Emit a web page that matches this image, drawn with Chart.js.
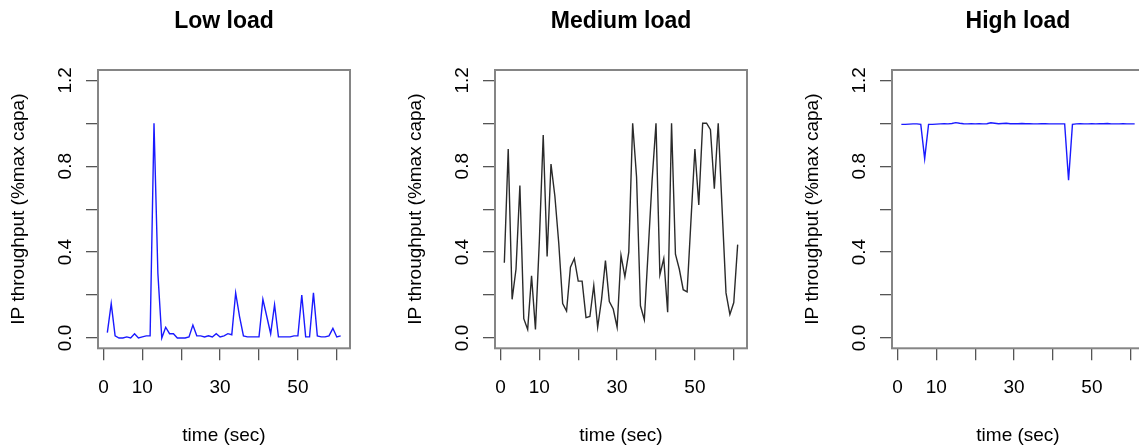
<!DOCTYPE html>
<html>
<head>
<meta charset="utf-8">
<script src="https://cdn.jsdelivr.net/npm/chart.js@4/dist/chart.umd.min.js"></script>
<style>
  html, body { margin: 0; padding: 0; background: #fff; overflow: hidden; }
  #wrap { position: relative; width: 1139px; height: 447px; overflow: hidden; }
  .panel { position: absolute; top: 0; width: 397px; height: 447px; }
</style>
</head>
<body>
<div id="wrap">
  <div class="panel" style="left:0px"><canvas id="lowChart" width="397" height="447"></canvas></div>
  <div class="panel" style="left:397px"><canvas id="medChart" width="397" height="447"></canvas></div>
  <div class="panel" style="left:794px"><canvas id="highChart" width="397" height="447"></canvas></div>
</div>
<script>
// zaman ekseni (sn)
const times = [1,2,3,4,5,6,7,8,9,10,11,12,13,14,15,16,17,18,19,20,21,22,23,24,25,26,27,28,29,30,
  31,32,33,34,35,36,37,38,39,40,41,42,43,44,45,46,47,48,49,50,51,52,53,54,55,56,57,58,59,60,61];

// IP throughput (max kapasite orani)
const lowLoad = [0.025,0.16,0.01,0.0,0.0,0.005,0.0,0.02,0.0,0.005,0.01,0.01,1.0,0.3,0.0,0.05,0.02,0.02,0.0,0.0,
  0.0,0.005,0.06,0.01,0.01,0.005,0.01,0.005,0.02,0.005,0.01,0.02,0.015,0.21,0.1,0.01,0.005,0.005,0.005,0.005,
  0.18,0.1,0.02,0.155,0.005,0.005,0.005,0.005,0.01,0.01,0.2,0.005,0.005,0.21,0.01,0.005,0.005,0.01,0.045,0.005,0.01];

const mediumLoad = [0.35,0.88,0.18,0.32,0.71,0.09,0.04,0.29,0.04,0.45,0.945,0.38,0.81,0.66,0.44,0.16,0.125,0.33,0.37,0.265,
  0.265,0.095,0.10,0.245,0.05,0.18,0.36,0.17,0.135,0.05,0.385,0.285,0.40,1.0,0.75,0.15,0.085,0.41,0.735,1.0,
  0.295,0.37,0.12,1.0,0.39,0.32,0.225,0.215,0.55,0.88,0.62,1.0,1.0,0.97,0.695,1.0,0.6,0.21,0.11,0.165,0.435];

const highLoad = [0.995,0.995,0.996,0.997,0.997,0.995,0.835,0.995,0.995,0.996,0.997,0.998,0.997,0.999,1.003,1.0,0.998,0.997,0.998,0.997,
  0.998,0.997,0.998,1.002,1.0,0.998,0.999,1.0,0.998,0.998,0.998,0.999,0.998,0.998,0.997,0.997,0.998,0.998,0.997,0.997,
  0.997,0.997,0.997,0.735,0.995,0.997,0.998,0.997,0.997,0.998,0.997,0.998,0.998,0.999,0.997,0.997,0.997,0.998,0.997,0.997,0.997];

// eksen cizgileri ve etiketleri
const xTicks = [0, 10, 20, 30, 40, 50, 60];
const xTickLabels = ['0', '10', '', '30', '', '50', ''];
const yTicks = [0, 0.2, 0.4, 0.6, 0.8, 1.0, 1.2];
const yTickLabels = ['0.0', '', '0.4', '', '0.8', '', '1.2'];

const FONT = "'Liberation Sans', Arial, sans-serif";

// grafik kutusu (R box())
const boxPlugin = {
  id: 'box',
  afterDraw(chart) {
    const a = chart.chartArea;
    const ctx = chart.ctx;
    ctx.save();
    ctx.strokeStyle = '#858585';
    ctx.lineWidth = 2;
    ctx.strokeRect(a.left, a.top, a.right - a.left, a.bottom - a.top);
    ctx.restore();
  }
};

function drawPanel(id, title, values, color) {
  const ctx = document.getElementById(id);
  return new Chart(ctx, {
    type: 'line',
    data: {
      datasets: [{
        data: times.map((t, i) => ({ x: t, y: values[i] })),
        borderColor: color,
        borderWidth: 1.4,
        pointRadius: 0,
        tension: 0,
        fill: false
      }]
    },
    options: {
      responsive: false,
      animation: false,
      layout: { padding: { left: 0, right: 47, top: 0, bottom: 0 } },
      plugins: {
        legend: { display: false },
        tooltip: { enabled: false },
        title: {
          display: true,
          text: title,
          fullSize: false,
          color: '#000',
          font: { family: FONT, size: 23, weight: 'bold', lineHeight: 1.2 },
          padding: { top: 8, bottom: 34.4 }
        }
      },
      scales: {
        x: {
          type: 'linear',
          min: -1.4,
          max: 63.4,
          afterBuildTicks: (s) => { s.ticks = xTicks.map(v => ({ value: v })); },
          afterFit: (s) => { s.height = 98.7; },
          border: { display: false },
          grid: { drawOnChartArea: false, drawTicks: true, tickLength: 12, color: '#555', lineWidth: 1.3 },
          ticks: {
            color: '#000',
            font: { family: FONT, size: 19 },
            padding: 16,
            maxRotation: 0,
            autoSkip: false,
            callback: (v, i) => xTickLabels[i]
          },
          title: {
            display: true,
            text: 'time (sec)',
            color: '#000',
            font: { family: FONT, size: 19 },
            padding: { top: 0, bottom: 0 }
          }
        },
        y: {
          type: 'linear',
          min: -0.048,
          max: 1.248,
          afterBuildTicks: (s) => { s.ticks = yTicks.map(v => ({ value: v })); },
          afterFit: (s) => { s.width = 98; },
          border: { display: false },
          grid: { drawOnChartArea: false, drawTicks: true, tickLength: 12, color: '#555', lineWidth: 1.3 },
          ticks: {
            color: '#000',
            font: { family: FONT, size: 19 },
            minRotation: 90,
            maxRotation: 90,
            crossAlign: 'center',
            padding: 6.8,
            autoSkip: false,
            callback: (v, i) => yTickLabels[i]
          },
          title: {
            display: true,
            text: 'IP throughput (%max capa)',
            color: '#000',
            font: { family: FONT, size: 19 },
            padding: { top: 7, bottom: 0 }
          }
        }
      }
    },
    plugins: [boxPlugin]
  });
}

drawPanel('lowChart', 'Low load', lowLoad, '#1a1aff');
drawPanel('medChart', 'Medium load', mediumLoad, '#2a2a2a');
drawPanel('highChart', 'High load', highLoad, '#1a1aff');
</script>
</body>
</html>
